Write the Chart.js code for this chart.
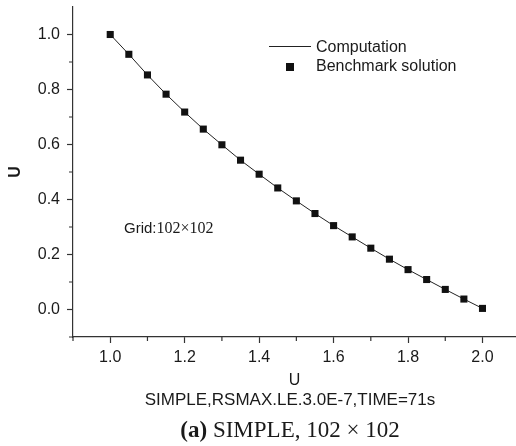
<!DOCTYPE html>
<html>
<head>
<meta charset="utf-8">
<script src="https://cdn.jsdelivr.net/npm/chart.js@4.4.0/dist/chart.umd.min.js"></script>
<style>
  body { margin: 0; background: #fff; overflow: hidden; }
  #wrap { position: relative; width: 516px; height: 446px; }
  #chart { position: absolute; left: 0; top: 0; }
  .caption { position: absolute; left: 290px; transform: translateX(-50%); white-space: nowrap; color: #1a1a1a; }
  #run-info { top: 390px; font: 17px/20px 'Liberation Sans', Arial, sans-serif; }
  #fig-label { top: 417px; font: 23px/26px 'Liberation Serif', 'Times New Roman', serif; }
</style>
</head>
<body>
<div id="wrap">
  <canvas id="chart" width="516" height="446"></canvas>
  <div class="caption" id="run-info">SIMPLE,RSMAX.LE.3.0E-7,TIME=71s</div>
  <div class="caption" id="fig-label"><b>(a)</b> SIMPLE, 102 × 102</div>
</div>
<script>
// values
const uPositions = [1.0, 1.05, 1.1, 1.15, 1.2, 1.25, 1.3, 1.35, 1.4, 1.45, 1.5,
                    1.55, 1.6, 1.65, 1.7, 1.75, 1.8, 1.85, 1.9, 1.95, 2.0];
const benchmark = [1.0, 0.928, 0.853, 0.783, 0.718, 0.656, 0.599, 0.543, 0.492, 0.442, 0.395,
                   0.349, 0.305, 0.264, 0.223, 0.183, 0.145, 0.109, 0.073, 0.038, 0.004];
const computation = [1.0, 0.928, 0.853, 0.783, 0.718, 0.656, 0.599, 0.543, 0.492, 0.442, 0.395,
                     0.349, 0.305, 0.264, 0.223, 0.183, 0.145, 0.109, 0.073, 0.038, 0.004];

const xTicks = [1.0, 1.2, 1.4, 1.6, 1.8, 2.0];
const xMinorTicks = [0.9, 1.1, 1.3, 1.5, 1.7, 1.9];
const yTicks = [0.0, 0.2, 0.4, 0.6, 0.8, 1.0];
const yMinorTicks = [-0.1, 0.1, 0.3, 0.5, 0.7, 0.9];

const SANS = "'Liberation Sans', Arial, sans-serif";
const SERIF = "'Liberation Serif', 'Times New Roman', serif";
const INK = '#1a1a1a';
const AXIS = '#333';

Chart.defaults.font.family = SANS;
Chart.defaults.color = INK;

function toPoints(values) {
    return uPositions.map((u, i) => ({ x: u, y: values[i] }));
}

// no extra room for the end labels, the plot box is fixed
function noPadding(scale) {
    scale.paddingTop = 0;
    scale.paddingBottom = 0;
    scale.paddingLeft = 0;
    scale.paddingRight = 0;
}

// short ticks between the labelled ones
const minorTicks = {
    id: 'minorTicks',
    afterDraw(chart) {
        const { ctx, chartArea, scales } = chart;
        ctx.save();
        ctx.strokeStyle = AXIS;
        ctx.lineWidth = 1.2;
        ctx.beginPath();
        xMinorTicks.forEach(v => {
            const px = scales.x.getPixelForValue(v);
            ctx.moveTo(px, chartArea.bottom);
            ctx.lineTo(px, chartArea.bottom + 4);
        });
        yMinorTicks.forEach(v => {
            const py = scales.y.getPixelForValue(v);
            ctx.moveTo(chartArea.left, py);
            ctx.lineTo(chartArea.left - 4, py);
        });
        ctx.stroke();
        ctx.restore();
    }
};

// legend box inside the plot and the grid note
const notes = {
    id: 'notes',
    afterDraw(chart) {
        const { ctx, data, scales } = chart;
        ctx.save();
        ctx.fillStyle = INK;
        ctx.strokeStyle = '#222';
        ctx.textBaseline = 'middle';
        ctx.font = '16px ' + SANS;

        // Computation
        ctx.lineWidth = 1;
        ctx.beginPath();
        ctx.moveTo(269, 46.5);
        ctx.lineTo(311, 46.5);
        ctx.stroke();
        ctx.fillText(data.datasets[0].label, 316, 47.5);

        // Benchmark solution
        ctx.fillStyle = '#111';
        ctx.fillRect(286, 63, 8, 8);
        ctx.fillStyle = INK;
        ctx.fillText(data.datasets[1].label, 316, 67);

        // Grid:102x102
        const gx = scales.x.getPixelForValue(1.037);
        const gy = 233;
        ctx.textBaseline = 'alphabetic';
        ctx.font = '15px ' + SANS;
        ctx.fillText('Grid:', gx, gy);
        const w = ctx.measureText('Grid:').width;
        ctx.font = '16px ' + SERIF;
        ctx.fillText('102×102', gx + w, gy);
        ctx.restore();
    }
};

new Chart(document.querySelector('#chart').getContext('2d'), {
    type: 'scatter',
    data: {
        datasets: [{
            label: 'Computation',
            data: toPoints(computation),
            showLine: true,
            borderColor: '#222',
            borderWidth: 1,
            pointRadius: 0,
            tension: 0,
            order: 1
        }, {
            label: 'Benchmark solution',
            data: toPoints(benchmark),
            showLine: false,
            pointStyle: 'rect',
            pointRadius: 5,
            pointBorderWidth: 0,
            backgroundColor: '#111',
            borderColor: '#111',
            order: 0
        }]
    },
    options: {
        responsive: false,
        animation: false,
        devicePixelRatio: 1,
        layout: { autoPadding: false, padding: { top: 7, left: 0, right: 0, bottom: 0 } },
        plugins: {
            legend: { display: false },
            tooltip: { enabled: false }
        },
        scales: {
            x: {
                type: 'linear',
                min: 0.9,
                max: 2.09,
                afterBuildTicks: scale => { scale.ticks = xTicks.map(v => ({ value: v })); },
                afterFit: scale => { scale.height = 109; noPadding(scale); },
                ticks: {
                    callback: v => v.toFixed(1),
                    font: { size: 16 },
                    padding: 5,
                    color: INK
                },
                grid: { drawOnChartArea: false, tickLength: 6, tickColor: AXIS, tickWidth: 1.2 },
                border: { color: AXIS, width: 1.2 },
                title: {
                    display: true,
                    text: 'U',
                    font: { size: 16 },
                    color: INK,
                    padding: { top: 0, bottom: 56 }
                }
            },
            y: {
                type: 'linear',
                min: -0.1,
                max: 1.1,
                afterBuildTicks: scale => { scale.ticks = yTicks.map(v => ({ value: v })); },
                afterFit: scale => { scale.width = 73; noPadding(scale); },
                ticks: {
                    callback: v => v.toFixed(1),
                    font: { size: 16 },
                    padding: 7,
                    color: INK
                },
                grid: { drawOnChartArea: false, tickLength: 6, tickColor: AXIS, tickWidth: 1.2 },
                border: { color: AXIS, width: 1.2 },
                title: {
                    display: true,
                    text: 'U',
                    font: { size: 16, weight: 'bold' },
                    color: INK,
                    padding: { top: 6, bottom: 0 }
                }
            }
        }
    },
    plugins: [minorTicks, notes]
});
</script>
</body>
</html>
